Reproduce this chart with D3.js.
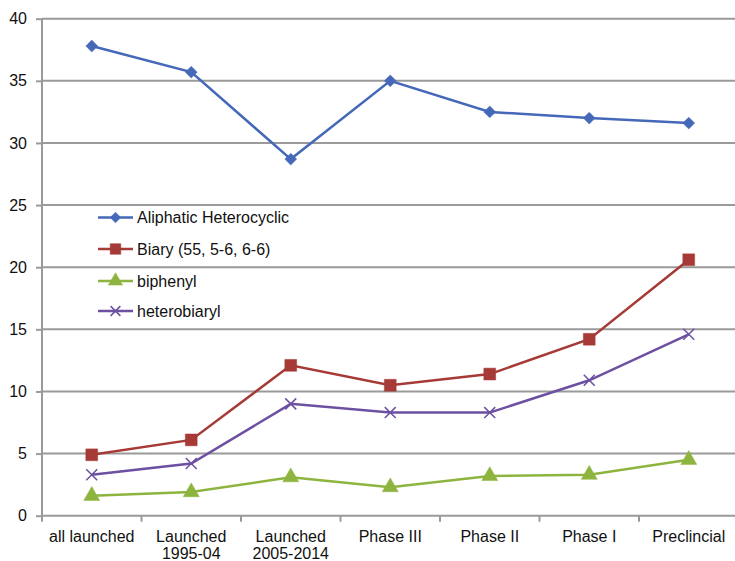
<!DOCTYPE html>
<html><head><meta charset="utf-8">
<script src="https://cdn.jsdelivr.net/npm/d3@7"></script>
<style>body{margin:0;background:#fff}svg{display:block}text{font-family:"Liberation Sans",Arial,sans-serif;fill:#111}</style>
</head><body><svg id="c" width="735" height="561"></svg>
<script>
const categories = [["all launched"],["Launched","1995-04"],["Launched","2005-2014"],["Phase III"],["Phase II"],["Phase I"],["Preclincial"]];
const seriesNames = ["Aliphatic Heterocyclic","Biary (55, 5-6, 6-6)","biphenyl","heterobiaryl"];
const aliphatic = [37.8,35.7,28.7,35.0,32.5,32.0,31.6];
const biary = [4.9,6.1,12.1,10.5,11.4,14.2,20.6];
const biphenyl = [1.6,1.9,3.1,2.3,3.2,3.3,4.5];
const heterobiaryl = [3.3,4.2,9.0,8.3,8.3,10.9,14.6];
const yTicks = [0,5,10,15,20,25,30,35,40];

const colors = ["#4568b8","#a63a37","#8db43f","#6c50a2"];
const symbols = [d3.symbolDiamond2, d3.symbolSquare, d3.symbolTriangle, d3.symbolX];
const sizes = [90,140,110,80];
const allSeries = [aliphatic,biary,biphenyl,heterobiaryl];

const svg = d3.select("#c");
const x = d3.scaleBand().domain(d3.range(categories.length)).range([42,738.5]);
const y = d3.scaleLinear().domain([0,40]).range([515.7,18.7]);

// gridlines
svg.append("g").selectAll("line").data(yTicks.filter(t=>t>0)).join("line")
  .attr("x1",42).attr("x2",735).attr("y1",d=>y(d)).attr("y2",d=>y(d))
  .attr("stroke","#9a9a9a").attr("stroke-width",2);

// y axis
const ya = svg.append("g").attr("transform","translate(42,0)")
  .call(d3.axisLeft(y).tickValues(yTicks).tickSize(6).tickPadding(9));
ya.select(".domain").attr("stroke","#9a9a9a").attr("stroke-width",2).attr("d","M0,"+y(40)+"V"+y(0));
ya.selectAll(".tick line").attr("stroke","#9a9a9a").attr("stroke-width",2);
ya.selectAll("text").style("font-size","16px").attr("fill","#111");

// x axis
const xa = svg.append("g").attr("transform","translate(0,"+y(0)+")");
xa.append("line").attr("x1",42).attr("x2",735).attr("stroke","#9a9a9a").attr("stroke-width",2);
xa.selectAll("line.t").data(d3.range(categories.length+1)).join("line").attr("class","t")
  .attr("x1",d=>42+d*x.step()).attr("x2",d=>42+d*x.step()).attr("y1",0).attr("y2",6)
  .attr("stroke","#9a9a9a").attr("stroke-width",2);
const lab = xa.selectAll("text").data(categories).join("text")
  .attr("text-anchor","middle").style("font-size","16px")
  .attr("transform",(d,i)=>"translate("+(x(i)+x.bandwidth()/2)+",26.5)");
lab.selectAll("tspan").data(d=>d).join("tspan").attr("x",0).attr("dy",(d,i)=>i?16.5:0).text(d=>d);

// lines
const line = d3.line().x((d,i)=>x(i)+x.bandwidth()/2).y(d=>y(d));
allSeries.forEach((s,k)=>{
  const g = svg.append("g");
  g.append("path").attr("d",line(s)).attr("fill","none").attr("stroke",colors[k]).attr("stroke-width",2.5);
  g.selectAll("path.m").data(s).join("path").attr("class","m")
    .attr("transform",(d,i)=>"translate("+(x(i)+x.bandwidth()/2)+","+y(d)+")")
    .attr("d",d3.symbol().type(symbols[k]).size(sizes[k]))
    .attr("fill",k===3?"none":colors[k]).attr("stroke",colors[k]).attr("stroke-width",k===3?1.5:0.5);
});

// legend
const legY = [217.5,249,281,311];
seriesNames.forEach((n,k)=>{
  const g = svg.append("g").attr("transform","translate(98,"+legY[k]+")");
  g.append("line").attr("x1",0).attr("x2",35).attr("stroke",colors[k]).attr("stroke-width",2.5);
  g.append("path").attr("transform","translate(17.5,0)").attr("d",d3.symbol().type(symbols[k]).size(sizes[k]*0.8))
    .attr("fill",k===3?"none":colors[k]).attr("stroke",colors[k]).attr("stroke-width",k===3?1.5:0.5);
  g.append("text").attr("x",39).attr("y",5.5).style("font-size","16px").text(n);
});
</script></body></html>
